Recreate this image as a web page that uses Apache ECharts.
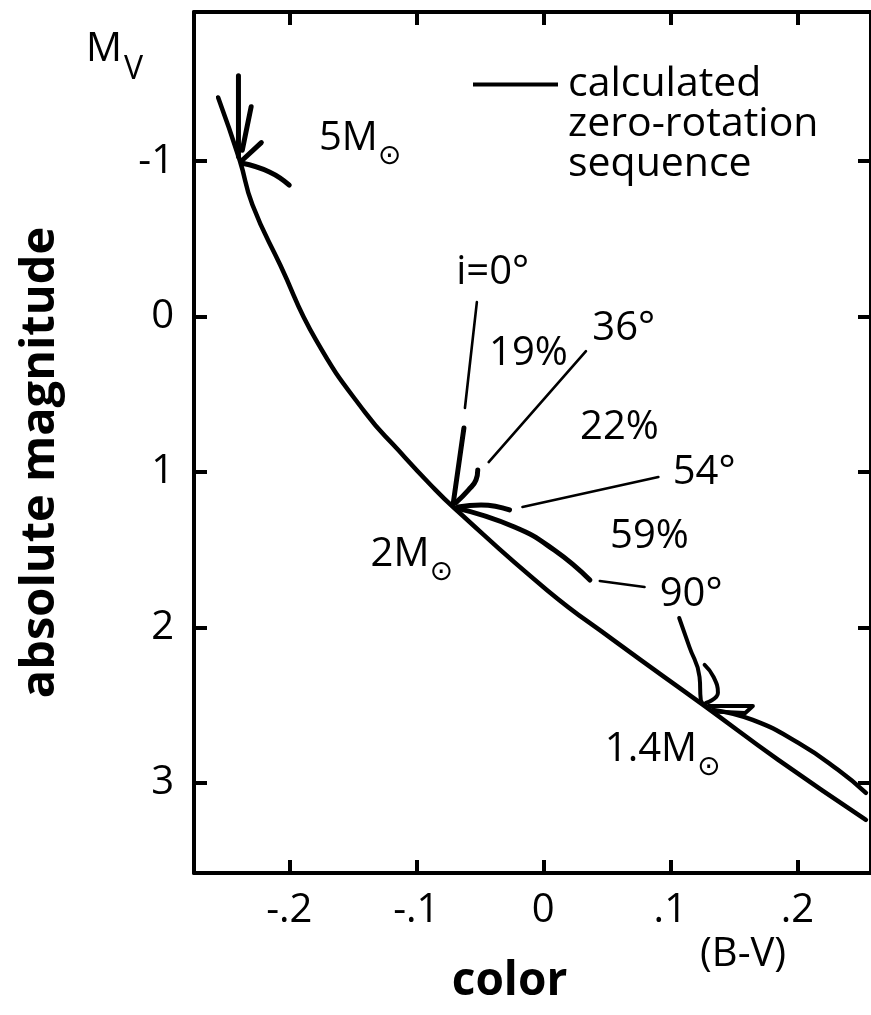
<!DOCTYPE html>
<html>
<head>
<meta charset="utf-8">
<script src="https://cdn.jsdelivr.net/npm/echarts@6/dist/echarts.min.js"></script>
<style>
  html, body { margin: 0; padding: 0; background: #fff; }
  #chart { width: 871px; height: 1015px; }
</style>
</head>
<body>
<div id="chart"></div>
<script>
  // ticks
  const xTickValues = [-0.2, -0.1, 0, 0.1, 0.2]
  const xTickLabels = ['-.2', '-.1', '0', '.1', '.2']
  const yTickValues = [-1, 0, 1, 2, 3]
  const yTickLabels = ['-1', '0', '1', '2', '3']

  // calculated zero-rotation sequence, [B-V, Mv]
  const zeroRotation = [[-0.256, -1.41], [-0.239, -1.006], [-0.229, -0.72], [-0.207, -0.33],
    [-0.179, 0.15], [-0.140, 0.62], [-0.114, 0.86],
    [-0.089, 1.08], [-0.071, 1.225], [0.003, 1.76], [0.055, 2.08], [0.128, 2.511],
    [0.185, 2.852], [0.254, 3.238]]

  // 5 Msun rotating tracks
  const m5Incl0 = [[-0.240, -1.55], [-0.240, -1.03]]
  const m5Incl36 = [[-0.230, -1.35], [-0.237, -1.07]]
  const m5Incl54 = [[-0.222, -1.12], [-0.237, -1.006]]
  const m5Incl90 = [[-0.237, -0.987], [-0.2156, -0.931], [-0.200, -0.846]]

  // 2 Msun rotating tracks
  const m2Incl0Thin = [[-0.0523, -0.093], [-0.0617, 0.588]]
  const m2Incl0 = [[-0.0625, 0.717], [-0.0711, 1.212]]
  const m2Incl36Thin = [[0.0336, 0.222], [-0.043, 0.936]]
  const m2Incl36 = [[-0.0516, 0.987], [-0.053, 1.051], [-0.059, 1.116], [-0.069, 1.199]]
  const m2Incl54Thin = [[0.0906, 1.032], [-0.0164, 1.225]]
  const m2Incl54 = [[-0.0266, 1.244], [-0.049, 1.212], [-0.067, 1.225]]
  const m2Incl90 = [[-0.069, 1.231], [-0.0227, 1.354], [0.0086, 1.502], [0.0367, 1.695]]
  const m2Incl90Thin = [[0.0445, 1.701], [0.0797, 1.740]]

  // 1.4 Msun rotating tracks
  const m14Incl90 = [[0.107, 1.939], [0.115, 2.125], [0.123, 2.318], [0.124, 2.466], [0.127, 2.498]]
  const m14Hook = [[0.127, 2.241], [0.134, 2.318], [0.1375, 2.421], [0.128, 2.486]]
  const m14Loop = [[0.130, 2.505], [0.165, 2.505], [0.159, 2.550], [0.138, 2.543]]
  const m14Upper = [[0.1336, 2.531], [0.1648, 2.595], [0.2008, 2.743], [0.232, 2.916], [0.254, 3.064]]

  // annotations [B-V, Mv, text]
  const inclinationLabels = [
    [-0.0398, -0.286, 'i=0°'], [-0.0117, 0.235, '19%'], [0.0633, 0.074, '36°'],
    [0.060, 0.711, '22%'], [0.1266, 1.006, '54°'], [0.0836, 1.418, '59%'], [0.1164, 1.791, '90°']
  ]
  const massLabels = [
    [-0.1766, -1.109, '5M'], [-0.136, 1.572, '2M'], [0.0484, 2.826, '1.4M']
  ]

  const FONT = '"Open Sans", Roboto, sans-serif'
  const black = '#000'

  function labelFor(values, labels, v) {
    const i = values.findIndex(t => Math.abs(t - v) < 1e-9)
    return i < 0 ? '' : labels[i]
  }

  function track(name, data, width, smooth) {
    return {
      name: name,
      type: 'line',
      data: data,
      symbol: 'none',
      smooth: smooth,
      silent: true,
      color: black,
      lineStyle: { color: black, width: width, cap: 'round', join: 'round' }
    }
  }

  const tickStyle = { show: true, inside: true, length: 13, lineStyle: { color: black, width: 4 } }
  const lineStyle = { show: true, onZero: false, lineStyle: { color: black, width: 4 } }

  const myChart = echarts.init(document.getElementById('chart'))
  myChart.setOption({
    animation: false,
    backgroundColor: '#fff',
    grid: { left: 194, right: -5, top: 12, bottom: 142 },
    legend: {
      data: ['calculated zero-rotation sequence'],
      left: 473,
      top: -16,
      padding: 0,
      selectedMode: false,
      icon: 'rect',
      itemWidth: 85,
      itemHeight: 4,
      itemStyle: { color: black },
      formatter: () => '\n\ncalculated\nzero-rotation\nsequence',
      textStyle: { fontFamily: FONT, fontSize: 41, lineHeight: 40, color: black, padding: [0, 0, 0, 5] }
    },
    xAxis: [
      {
        type: 'value', position: 'bottom', min: -0.275, max: 0.258,
        axisLine: lineStyle,
        axisTick: Object.assign({ customValues: xTickValues }, tickStyle),
        axisLabel: {
          customValues: xTickValues, margin: 18,
          formatter: v => labelFor(xTickValues, xTickLabels, v),
          fontFamily: FONT, fontSize: 40, color: black
        },
        splitLine: { show: false },
        name: 'color', nameLocation: 'middle', nameGap: 86,
        nameTextStyle: { fontFamily: FONT, fontWeight: 'bold', fontSize: 46, color: black, padding: [0, 46, 0, 0] }
      },
      {
        type: 'value', position: 'top', min: -0.275, max: 0.258,
        axisLine: lineStyle,
        axisTick: Object.assign({ customValues: xTickValues }, tickStyle),
        axisLabel: { show: false },
        splitLine: { show: false }
      }
    ],
    yAxis: [
      {
        type: 'value', position: 'left', inverse: true, min: -1.96, max: 3.58,
        axisLine: lineStyle,
        axisTick: Object.assign({ customValues: yTickValues }, tickStyle),
        axisLabel: {
          customValues: yTickValues, margin: 20,
          formatter: v => labelFor(yTickValues, yTickLabels, v),
          fontFamily: FONT, fontSize: 40, color: black
        },
        splitLine: { show: false },
        name: 'absolute magnitude', nameLocation: 'middle', nameRotate: 90, nameGap: 130,
        nameTextStyle: { fontFamily: FONT, fontWeight: 'bold', fontSize: 47, color: black, padding: [0, 40, 0, 0] }
      },
      {
        type: 'value', position: 'right', inverse: true, min: -1.96, max: 3.58,
        axisLine: lineStyle,
        axisTick: Object.assign({ customValues: yTickValues }, tickStyle),
        axisLabel: { show: false },
        splitLine: { show: false }
      }
    ],
    graphic: [
      {
        type: 'text', left: 86, top: 30,
        style: {
          text: '{m|M}{s|V}',
          rich: {
            m: { fontFamily: FONT, fontSize: 40, lineHeight: 40, padding: [0, 0, 16, 0], fill: black },
            s: { fontFamily: FONT, fontSize: 32, lineHeight: 32, padding: [24, 0, 0, 2], fill: black }
          }
        }
      },
      {
        type: 'text', left: 700, top: 935,
        style: { text: '(B-V)', fontFamily: FONT, fontSize: 40, fill: black }
      }
    ],
    series: [
      track('calculated zero-rotation sequence', zeroRotation, 4.5, 0.5),
      track('m5 i=0', m5Incl0, 5, false),
      track('m5 i=36', m5Incl36, 5, false),
      track('m5 i=54', m5Incl54, 5, false),
      track('m5 i=90', m5Incl90, 5, true),
      track('m2 i=0 thin', m2Incl0Thin, 2.6, false),
      track('m2 i=0', m2Incl0, 5, false),
      track('m2 i=36 thin', m2Incl36Thin, 2.6, false),
      track('m2 i=36', m2Incl36, 5, true),
      track('m2 i=54 thin', m2Incl54Thin, 2.6, false),
      track('m2 i=54', m2Incl54, 5, true),
      track('m2 i=90', m2Incl90, 5, true),
      track('m2 i=90 thin', m2Incl90Thin, 2.6, false),
      track('m1.4 i=90', m14Incl90, 4, true),
      track('m1.4 hook', m14Hook, 4, true),
      track('m1.4 loop', m14Loop, 4, false),
      track('m1.4 upper', m14Upper, 4.5, true),
      {
        type: 'scatter', symbolSize: 0, silent: true, color: black,
        data: inclinationLabels.map(d => ({ value: [d[0], d[1]], name: d[2] })),
        label: {
          show: true, position: 'inside', formatter: p => p.name,
          fontFamily: FONT, fontSize: 40, fontWeight: 500, color: black,
          textBorderWidth: 0, opacity: 1
        }
      },
      {
        type: 'scatter', symbolSize: 0, silent: true, color: black,
        data: massLabels.map(d => ({ value: [d[0], d[1]], name: d[2] })),
        label: {
          show: true, position: 'right', distance: 0, opacity: 1, textBorderWidth: 0,
          formatter: p => '{m|' + p.name + '}{s|⊙}',
          rich: {
            m: { fontFamily: FONT, fontSize: 40, fontWeight: 500, lineHeight: 40, padding: [0, 0, 12, 0], color: black },
            s: { fontFamily: '"DejaVu Sans", sans-serif', fontSize: 28, lineHeight: 28, padding: [24, 0, 0, 0], color: black }
          }
        }
      }
    ]
  })
</script>
</body>
</html>
